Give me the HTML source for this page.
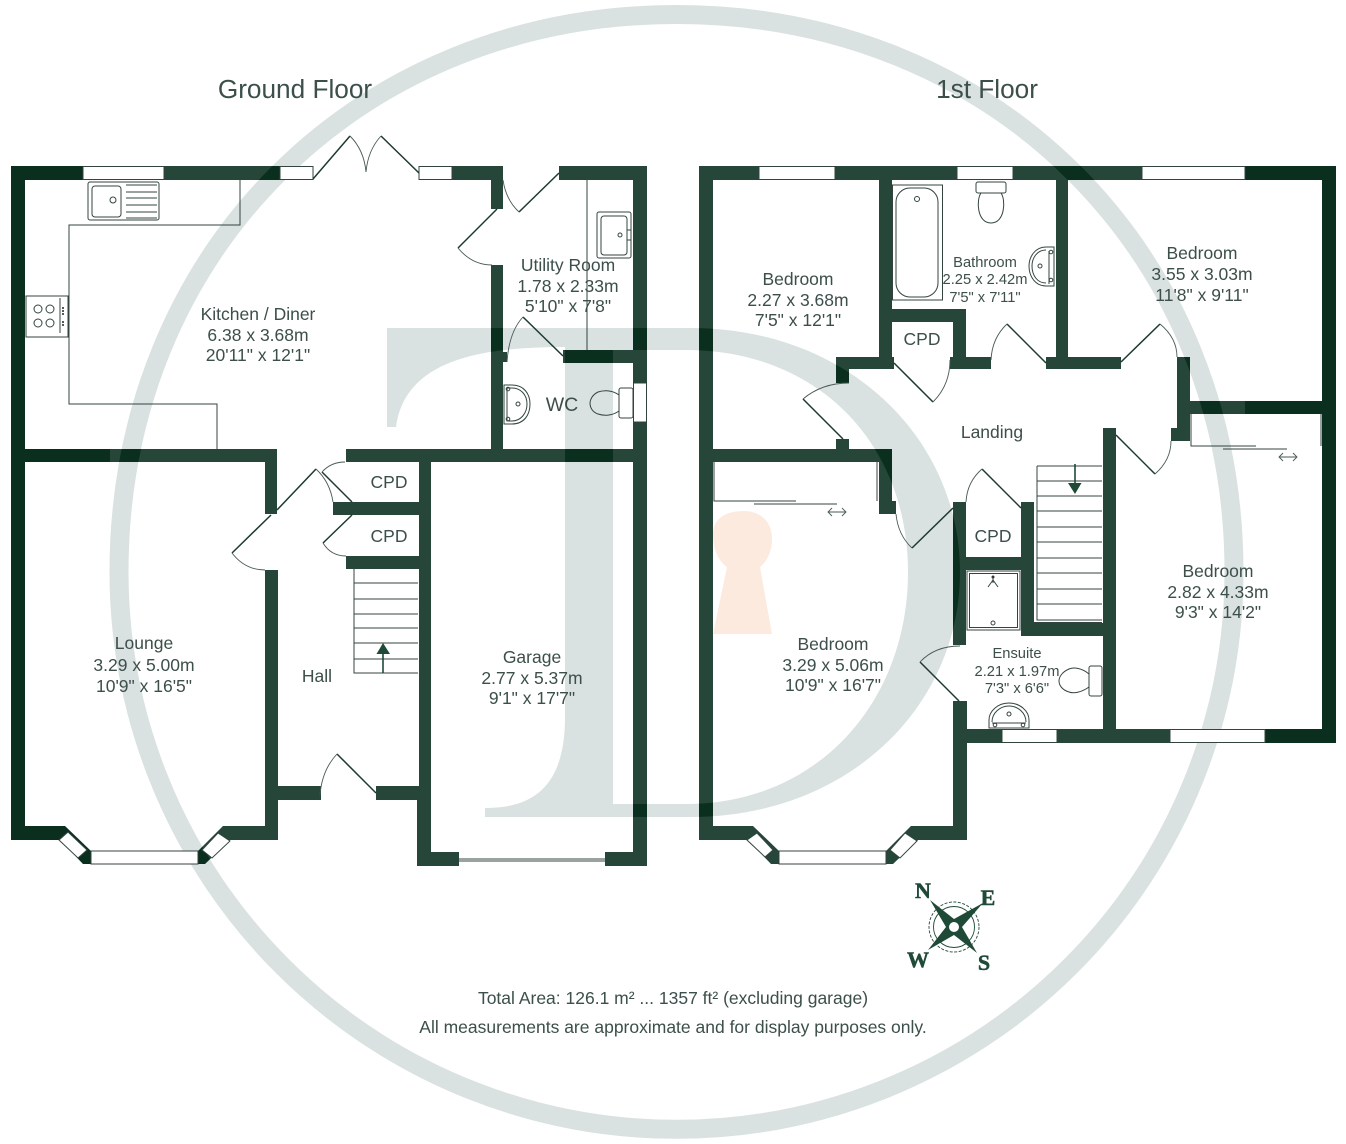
<!DOCTYPE html>
<html><head><meta charset="utf-8"><style>
html,body{margin:0;padding:0;background:#fff}
svg{display:block}
text{font-family:"Liberation Sans",sans-serif;fill:#3c4f4a;text-anchor:middle}
.l{font-size:17.5px}.s{font-size:14.7px}
.t{fill:none;stroke:#33443f;stroke-width:1}
.d{fill:none;stroke:#1c3a2e;stroke-width:1.5}
.a{fill:none;stroke:#4a5a55;stroke-width:.9}
.f{fill:#fff;stroke:#33443f;stroke-width:1}
.c{fill:#1f4a38;stroke:#1f4a38;stroke-width:.5;font-family:"Liberation Serif",serif;font-weight:bold;font-size:22px}
</style></head><body>
<svg width="1346" height="1144" viewBox="0 0 1346 1144" xmlns="http://www.w3.org/2000/svg">
<defs>
<path id="dd" fill-rule="evenodd" d="M387 328H690C850 328 960 440 960 572C960 705 850 817 690 817H485V808C530 808 565 790 565 717V347C480 347 405 360 396 427H387ZM613 350V804H690C820 802 908 700 908 572C908 445 820 352 690 350Z"/>
<path id="rr" fill="none" stroke-width="19" d="M119 572C119 253 357.500 14.500 676.500 14.500C995.500 14.500 1234 253 1234 572A557.500 557.500 0 0 1 119 572Z"/>
<mask id="m" maskUnits="userSpaceOnUse" x="0" y="0" width="1346" height="1144">
<rect width="1346" height="1144" fill="#fff"/>
<use href="#rr" stroke="#000"/>
<use href="#dd" fill="#000"/>
</mask>
</defs>
<rect width="1346" height="1144" fill="#fff"/>
<!-- watermark -->
<use href="#rr" stroke="#d9e1e1"/>
<use href="#dd" fill="#d9e1e1"/>
<path d="M713 534C713 518 727 511 743 511C759 511 772 520 772 539C772 553 766 562 760 567L772 634H713L727 567C720 562 713 552 713 534Z" fill="#fce8dc"/>

<!-- walls -->
<g fill="#0a2f1f">
<!-- ground -->
<rect x="11" y="166" width="14" height="674"/>
<rect x="11" y="166" width="302" height="14"/>
<rect x="419" y="166" width="84" height="14"/>
<rect x="491" y="166" width="12" height="43"/>
<rect x="559" y="166" width="88" height="14"/>
<rect x="633" y="166" width="14" height="700"/>
<rect x="491" y="265" width="12" height="197"/>
<rect x="563" y="350" width="70" height="13"/>
<rect x="491" y="352" width="16" height="10"/>
<rect x="346" y="449" width="287" height="13"/>
<rect x="25" y="449" width="252" height="13"/>
<rect x="265" y="449" width="12" height="65"/>
<rect x="265" y="570" width="13" height="270"/>
<rect x="278" y="786" width="43" height="14"/>
<rect x="376" y="786" width="43" height="14"/>
<rect x="419" y="462" width="12" height="404"/>
<rect x="417" y="800" width="14" height="66"/>
<rect x="417" y="852" width="42" height="14"/>
<rect x="605" y="852" width="42" height="14"/>
<rect x="333" y="502" width="86" height="13"/>
<rect x="346" y="556" width="73" height="13"/>
<path d="M11 826H65L91 851V864H83L60 840H11Z"/>
<path d="M278 826H223L198 851V864H205L230 840H278Z"/>
<!-- first -->
<rect x="699" y="166" width="14" height="674"/>
<rect x="699" y="166" width="637" height="14"/>
<rect x="1322" y="166" width="14" height="577"/>
<rect x="879" y="180" width="13" height="189"/>
<rect x="836" y="357" width="58" height="12"/>
<rect x="836" y="357" width="13" height="26"/>
<rect x="892" y="309" width="74" height="13"/>
<rect x="953" y="309" width="13" height="60"/>
<rect x="950" y="357" width="41" height="12"/>
<rect x="1046" y="357" width="75" height="12"/>
<rect x="1056" y="180" width="12" height="177"/>
<rect x="1177" y="357" width="13" height="84"/>
<rect x="1171" y="428" width="19" height="13"/>
<rect x="1190" y="401" width="132" height="13"/>
<rect x="1103" y="428" width="13" height="315"/>
<rect x="713" y="449" width="179" height="13"/>
<rect x="836" y="439" width="13" height="10"/>
<rect x="879" y="449" width="13" height="65"/>
<rect x="879" y="501" width="17" height="13"/>
<rect x="953" y="502" width="13" height="143"/>
<rect x="953" y="701" width="14" height="139"/>
<rect x="1021" y="502" width="13" height="134"/>
<rect x="966" y="557" width="55" height="13"/>
<rect x="1021" y="623" width="82" height="13"/>
<rect x="966" y="729" width="370" height="14"/>
<path d="M699 826H753L779 851V864H771L748 840H699Z"/>
<path d="M967 826H911L886 851V864H893L918 840H967Z"/>
</g>
<!-- lighter veil inside the watermark bounds -->
<rect x="110" y="0" width="1135" height="1144" fill="#fff" opacity=".11" mask="url(#m)"/>

<!-- windows -->
<g class="f">
<rect x="83" y="166.500" width="81" height="13"/>
<rect x="280" y="166.500" width="33" height="13"/>
<rect x="419" y="166.500" width="33" height="13"/>
<rect x="633.500" y="383" width="13" height="39"/>
<rect x="91" y="851" width="107" height="13"/>
<path d="M59 840L68 832L87 850L78 858Z"/>
<path d="M230 841L218 833L202 850L212 858Z"/>
<rect x="759" y="166.500" width="76" height="13"/>
<rect x="957" y="166.500" width="56" height="13"/>
<rect x="1142" y="166.500" width="103" height="13"/>
<rect x="1002" y="729.500" width="55" height="13"/>
<rect x="1170" y="729.500" width="95" height="13"/>
<rect x="779" y="851" width="107" height="13"/>
<path d="M747 840L757 833L773 850L765 857Z"/>
<path d="M917 841L905 833L890 850L900 858Z"/>
</g>
<!-- garage door -->
<path class="t" d="M459 859H605M459 861H605"/>

<!-- kitchen units -->
<path class="t" d="M240 180V225H69V404H217V449"/>
<rect x="88" y="182" width="71" height="38" rx="2" class="t" stroke-width="1.5"/>
<rect x="92" y="186" width="29" height="31" rx="3" class="t"/>
<circle cx="113" cy="200" r="3" class="t"/>
<path class="t" stroke="#777" d="M126 185H157M126 192H157M126 198H157M126 205H157M126 212H157M126 218H157"/>
<rect x="26" y="296" width="42" height="41" fill="#fff" stroke="#33443f"/>
<g class="t"><circle cx="38" cy="309" r="4"/><circle cx="50" cy="309" r="4"/><circle cx="38" cy="323" r="4"/><circle cx="50" cy="323" r="4"/><path d="M60 298V333"/></g>
<g fill="#222"><circle cx="63" cy="308" r="1"/><circle cx="63" cy="311" r="1"/><circle cx="63" cy="314" r="1"/><circle cx="63" cy="322" r="1"/><circle cx="63" cy="325" r="1"/></g>
<!-- utility -->
<path class="t" d="M587 180V350"/>
<rect x="597" y="212" width="34" height="46" rx="2" class="t"/>
<rect x="601" y="216" width="26" height="39" rx="3" class="t"/>
<circle cx="620" cy="235" r="2" class="t"/>
<path class="t" d="M627 230H631V240H627"/>
<!-- WC -->
<path class="t" d="M504 385H512C524 385 530 394 530 404C530 415 524 424 512 424H504Z"/>
<path class="t" d="M507 388H512C521 388 527 395 527 404C527 413 521 421 512 421H507Z"/>
<circle cx="518" cy="404" r="2" class="t"/><circle cx="508" cy="389" r="1.800" class="t"/><circle cx="508" cy="419" r="1.800" class="t"/>
<rect x="619" y="388" width="14" height="30" rx="2" class="t" stroke-width="1.200"/>
<path class="t" stroke-width="1.200" d="M619 395C612 390 604 390 598 392C592 395 590 400 590 403C590 407 592 412 598 414C604 416 612 416 619 411"/>
<!-- ground stairs -->
<path class="t" d="M354 569V673H418M354 583H418M354 599H418M354 614H418M354 628H418M354 643H418M354 659H418"/>
<path d="M383 673V653" stroke="#1f4a38" stroke-width="1.600"/>
<path d="M376.500 654H390L383 643Z" fill="#1f4a38"/>

<!-- ground doors -->
<g>
<path class="d" d="M313 179L350 136M381 136L419 173"/>
<path class="a" d="M350 136Q364 150 366 172Q368 150 381 136"/>
<path class="d" d="M519 212L559 173"/><path class="a" d="M503 180Q506 200 519 212"/>
<path class="d" d="M497 209L458 248"/><path class="a" d="M458 248Q472 265 492 265"/>
<path class="d" d="M563 356L523 317"/><path class="a" d="M523 317Q509 332 507 362"/>
<path class="d" d="M277 510L316 469"/><path class="a" d="M316 469Q330 482 333 502"/>
<path class="d" d="M271 515L232 553"/><path class="a" d="M232 553Q245 570 265 570"/>
<path class="d" d="M352 502L322 472"/><path class="a" d="M322 472Q331 462 345 462"/>
<path class="d" d="M352 515L323 543"/><path class="a" d="M323 543Q331 556 346 556"/>
<path class="d" d="M376 793L337 754"/><path class="a" d="M337 754Q322 770 320 795"/>
</g>

<!-- first floor fixtures -->
<rect x="892.500" y="185" width="50" height="115" class="t" stroke-width="1.200"/>
<rect x="896" y="188" width="42" height="109" rx="14" class="t"/>
<circle cx="917" cy="199" r="2.500" class="t"/>
<rect x="976" y="182" width="30" height="11" rx="2" class="t" stroke-width="1.200"/>
<path class="t" stroke-width="1.200" d="M981 193C976 200 977 223 991 223C1005 223 1006 200 1001 193"/>
<path class="t" d="M1054 247H1046C1035 247 1029 257 1029 266C1029 276 1035 286 1046 286H1054Z"/>
<path class="t" d="M1049 251V284M1046 250C1037 250 1032 258 1032 266C1032 275 1037 283 1046 283"/>
<circle cx="1040" cy="266" r="2" class="t"/><circle cx="1051" cy="252" r="1.800" class="t"/><circle cx="1051" cy="280" r="1.800" class="t"/>
<!-- first stairs -->
<path class="t" d="M1037 466H1102M1037 466V620H1102M1037 481H1102M1037 496H1102M1037 511H1102M1037 527H1102M1037 542H1102M1037 558H1102M1037 573H1102M1037 589H1102M1037 604H1102"/>
<path class="t" d="M1034 622.500H1102"/>
<path d="M1075 464V484" stroke="#1f4a38" stroke-width="1.600"/>
<path d="M1068 483H1081.500L1075 494Z" fill="#1f4a38"/>
<!-- shower -->
<rect x="967" y="571" width="53" height="59" class="t" stroke="#888" stroke-width="1.500"/>
<rect x="969.500" y="573.500" width="48" height="54" class="t" stroke="#999"/>
<circle cx="993" cy="577" r="1.500" fill="#333"/>
<path class="t" stroke="#666" d="M993 577V583M993 580L988 587M993 580L998 587"/>
<circle cx="993" cy="623" r="2" class="t" stroke="#888"/>
<!-- ensuite toilet, basin -->
<rect x="1089" y="666" width="13" height="30" rx="2" class="t" stroke-width="1.200"/>
<path class="t" stroke-width="1.200" d="M1089 674C1082 668 1074 667 1069 669C1062 672 1059 677 1059 681C1059 685 1062 690 1069 692C1074 694 1082 692 1089 687"/>
<path class="t" d="M989 728V720C989 711 998 703 1009 703C1020 703 1029 711 1029 720V728Z"/>
<path class="t" d="M992 722C992 713 1000 706 1009 706C1018 706 1026 713 1026 722M992 723H1026"/>
<circle cx="1009" cy="714" r="2" class="t"/><circle cx="995" cy="725" r="1.800" class="t"/><circle cx="1023" cy="725" r="1.800" class="t"/>

<!-- first doors -->
<g>
<path class="d" d="M843 439L803 399"/><path class="a" d="M803 399Q822 383 849 383"/>
<path class="d" d="M894 363L933 402"/><path class="a" d="M933 402Q950 385 950 360"/>
<path class="d" d="M1046 363L1007 324"/><path class="a" d="M1007 324Q992 338 991 360"/>
<path class="d" d="M1121 362L1160 324"/><path class="a" d="M1160 324Q1177 338 1177 357"/>
<path class="d" d="M1116 435L1155 474"/><path class="a" d="M1155 474Q1171 460 1171 441"/>
<path class="d" d="M1021 508L982 469"/><path class="a" d="M982 469Q967 482 966 502"/>
<path class="d" d="M953 508L912 548"/><path class="a" d="M912 548Q898 535 896 514"/>
<path class="d" d="M959 701L920 662"/><path class="a" d="M920 662Q935 646 960 646"/>
</g>
<!-- wardrobes -->
<path class="t" d="M1191 414V446H1256"/><path class="t" d="M1321 414V446"/>
<path class="t" stroke-width="1.200" d="M1223 449H1287"/>
<path class="a" d="M1279 457H1297M1283 453L1279 457L1283 461M1293 453L1297 457L1293 461"/>
<path class="t" d="M714 462V501H796"/><path class="t" d="M877 462V501"/>
<path class="t" stroke-width="1.200" d="M754 504H837"/>
<path class="a" d="M828 512H846M832 508L828 512L832 516M842 508L846 512L842 516"/>

<!-- labels -->
<text x="295" y="98" font-size="26.200">Ground Floor</text>
<text x="987" y="98" font-size="26.200">1st Floor</text>

<text class="l" x="258" y="320">Kitchen / Diner</text><text class="l" x="258" y="341">6.38 x 3.68m</text><text class="l" x="258" y="361">20'11" x 12'1"</text>
<text class="l" x="568" y="271">Utility Room</text><text class="l" x="568" y="292">1.78 x 2.33m</text><text class="l" x="568" y="312">5'10" x 7'8"</text>
<text x="562" y="411" font-size="19.500">WC</text>
<text class="l" x="389" y="488">CPD</text><text class="l" x="389" y="542">CPD</text>
<text class="l" x="144" y="649">Lounge</text><text class="l" x="144" y="671">3.29 x 5.00m</text><text class="l" x="144" y="692">10'9" x 16'5"</text>
<text class="l" x="317" y="682">Hall</text>
<text class="l" x="532" y="663">Garage</text><text class="l" x="532" y="684">2.77 x 5.37m</text><text class="l" x="532" y="704">9'1" x 17'7"</text>

<text class="l" x="798" y="285">Bedroom</text><text class="l" x="798" y="306">2.27 x 3.68m</text><text class="l" x="798" y="326">7'5" x 12'1"</text>
<text class="s" x="985" y="267">Bathroom</text><text class="s" x="985" y="284">2.25 x 2.42m</text><text class="s" x="985" y="302">7'5" x 7'11"</text>
<text class="l" x="922" y="345">CPD</text>
<text class="l" x="1202" y="259">Bedroom</text><text class="l" x="1202" y="280">3.55 x 3.03m</text><text class="l" x="1202" y="301">11'8" x 9'11"</text>
<text class="l" x="992" y="438">Landing</text>
<text class="l" x="993" y="542">CPD</text>
<text class="l" x="833" y="650">Bedroom</text><text class="l" x="833" y="671">3.29 x 5.06m</text><text class="l" x="833" y="691">10'9" x 16'7"</text>
<text class="s" x="1017" y="658">Ensuite</text><text class="s" x="1017" y="676">2.21 x 1.97m</text><text class="s" x="1017" y="693">7'3" x 6'6"</text>
<text class="l" x="1218" y="577">Bedroom</text><text class="l" x="1218" y="598">2.82 x 4.33m</text><text class="l" x="1218" y="618">9'3" x 14'2"</text>

<text x="673" y="1004" font-size="17.500">Total Area: 126.1 m² ... 1357 ft² (excluding garage)</text>
<text x="673" y="1033" font-size="17.500">All measurements are approximate and for display purposes only.</text>

<!-- compass -->
<g transform="translate(954 927)">
<circle r="25" fill="none" stroke="#1f4a38" stroke-width=".9" stroke-dasharray="3 1.500"/>
<circle r="20.500" fill="none" stroke="#1f4a38" stroke-width=".9"/>
<path d="M-24 -27L0 -8L29 -24L8 0L23 26L0 8L-26 23L-8 0Z" fill="#1f4a38"/>
<circle r="5.500" fill="#fff" stroke="#1f4a38" stroke-width="1"/>
</g>
<text class="c" x="923" y="898">N</text>
<text class="c" x="988" y="905">E</text>
<text class="c" x="918" y="967">W</text>
<text class="c" x="984" y="970">S</text>
</svg>
</body></html>
